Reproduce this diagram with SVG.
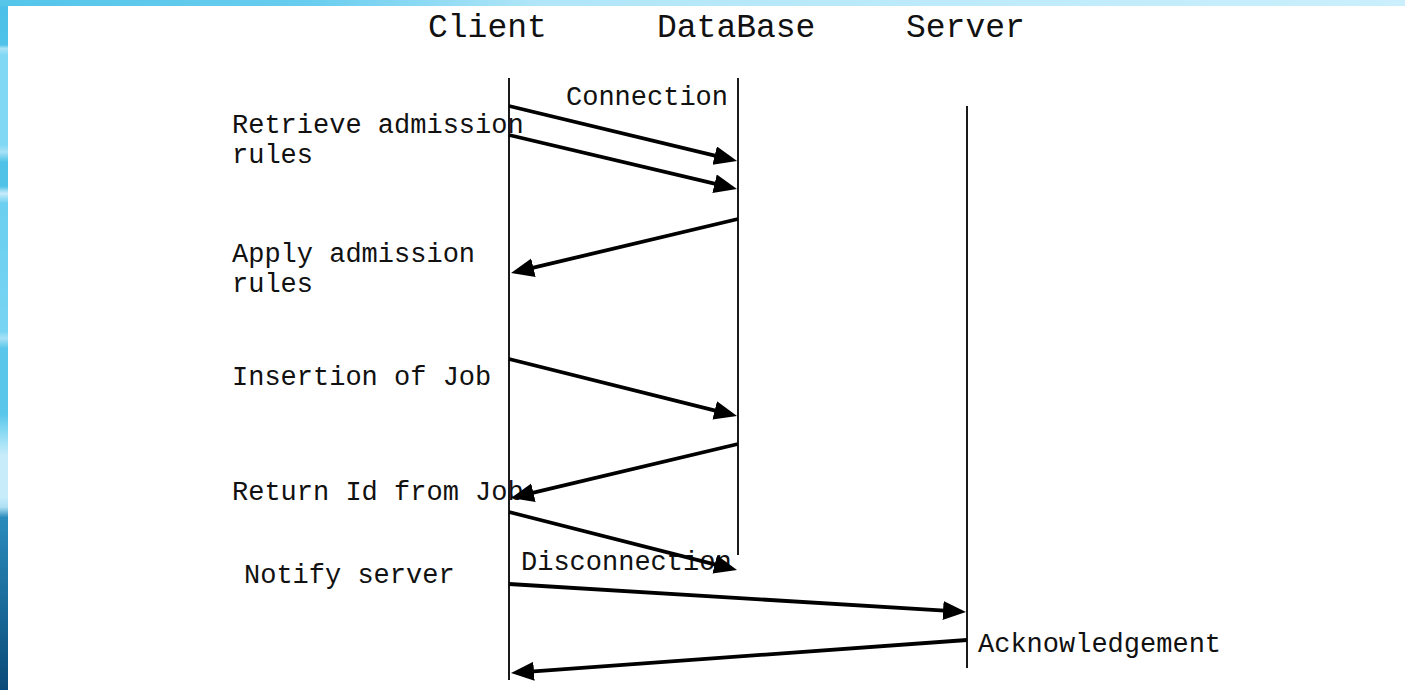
<svg xmlns="http://www.w3.org/2000/svg" width="1405" height="690" viewBox="0 0 1405 690">
  <style>
    .hdr { font-family: "Liberation Mono", "Courier New", monospace; font-size: 33px; fill: #111; }
    .lbl { font-family: "Liberation Mono", "Courier New", monospace; font-size: 27px; fill: #111; }
    .life { stroke: #1a1a1a; stroke-width: 2; fill: none; }
    .msg { stroke: #000; stroke-width: 3.8; fill: none; marker-end: url(#head); }
  </style>
  <defs>
    <marker id="head" markerUnits="userSpaceOnUse" markerWidth="23" markerHeight="20" refX="14" refY="9.5" orient="auto">
      <path d="M0,0 L23,9.5 L0,19 z" fill="#000"/>
    </marker>
    <linearGradient id="topband" x1="0" y1="0" x2="1" y2="0">
      <stop offset="0" stop-color="#55c5ea"/>
      <stop offset="0.22" stop-color="#68cdef"/>
      <stop offset="0.38" stop-color="#b0e6f8"/>
      <stop offset="1" stop-color="#cbeffc"/>
    </linearGradient>
    <linearGradient id="sideband" x1="0" y1="0" x2="0" y2="1">
      <stop offset="0" stop-color="#4cc0e8"/>
      <stop offset="0.065" stop-color="#4fc2e9"/>
      <stop offset="0.07" stop-color="#a8e2f6"/>
      <stop offset="0.08" stop-color="#80d8f4"/>
      <stop offset="0.21" stop-color="#80d8f4"/>
      <stop offset="0.22" stop-color="#a8e2f6"/>
      <stop offset="0.235" stop-color="#50c2e8"/>
      <stop offset="0.27" stop-color="#50c2e8"/>
      <stop offset="0.28" stop-color="#c8ecfa"/>
      <stop offset="0.295" stop-color="#6acff0"/>
      <stop offset="0.48" stop-color="#78d4f2"/>
      <stop offset="0.49" stop-color="#a8e2f6"/>
      <stop offset="0.505" stop-color="#5ac6ea"/>
      <stop offset="0.6" stop-color="#5ac6ea"/>
      <stop offset="0.63" stop-color="#90dcf4"/>
      <stop offset="0.66" stop-color="#c8ecfa"/>
      <stop offset="0.72" stop-color="#c8ecfa"/>
      <stop offset="0.735" stop-color="#aee0f4"/>
      <stop offset="0.75" stop-color="#2a8cbc"/>
      <stop offset="1" stop-color="#0a4a78"/>
    </linearGradient>
  </defs>

  <!-- slide background: blue frame on the top and left edges -->
  <rect x="0" y="0" width="1405" height="690" fill="#ffffff"/>
  <rect x="0" y="0" width="1405" height="6" fill="url(#topband)"/>
  <rect x="0" y="0" width="8" height="690" fill="url(#sideband)"/>
  <rect x="0" y="0" width="8" height="6" fill="#55c5ea"/>

  <!-- participants with their lifelines -->
  <g id="client">
    <text class="hdr" x="428" y="37">Client</text>
    <line class="life" x1="509" y1="78" x2="509" y2="680"/>
  </g>
  <g id="database">
    <text class="hdr" x="657" y="37">DataBase</text>
    <line class="life" x1="738" y1="78" x2="738" y2="555"/>
  </g>
  <g id="server">
    <text class="hdr" x="906" y="37">Server</text>
    <line class="life" x1="967" y1="106" x2="967" y2="668" stroke="#3a3a3a"/>
  </g>

  <!-- step descriptions -->
  <g id="labels">
    <text class="lbl" x="566" y="105">Connection</text>
    <text class="lbl" x="232" y="133">Retrieve admission</text>
    <text class="lbl" x="232" y="163">rules</text>
    <text class="lbl" x="232" y="262">Apply admission</text>
    <text class="lbl" x="232" y="292">rules</text>
    <text class="lbl" x="232" y="385">Insertion of Job</text>
    <text class="lbl" x="232" y="500">Return Id from Job</text>
    <text class="lbl" x="521" y="570">Disconnection</text>
    <text class="lbl" x="244" y="583">Notify server</text>
    <text class="lbl" x="978" y="652">Acknowledgement</text>
  </g>

  <!-- messages between lifelines -->
  <g id="connectors">
    <line class="msg" x1="509" y1="106" x2="728.3" y2="158.9"/>
    <line class="msg" x1="509" y1="135" x2="728.2" y2="186.9"/>
    <line class="msg" x1="738" y1="219" x2="519.8" y2="270.9"/>
    <line class="msg" x1="509" y1="359" x2="728.3" y2="413.8"/>
    <line class="msg" x1="738" y1="444" x2="519.8" y2="495.9"/>
    <line class="msg" x1="509" y1="512" x2="728.3" y2="567.8"/>
    <line class="msg" x1="509" y1="584" x2="957.0" y2="611.4"/>
    <line class="msg" x1="967" y1="640" x2="520.0" y2="672.3"/>
  </g>
</svg>
